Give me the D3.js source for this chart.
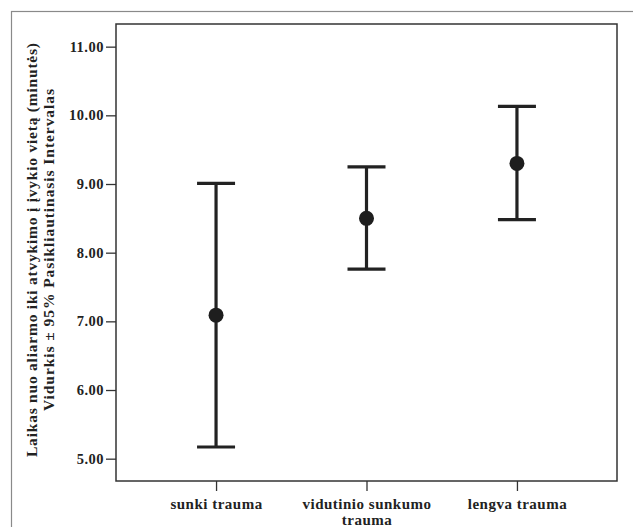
<!DOCTYPE html>
<html lang="lt">
<head>
<meta charset="UTF-8">
<title>Vidurkis ± 95% PI</title>
<script src="https://d3js.org/d3.v7.min.js"></script>
<style>
  body { margin: 0; background: #fff; }
  .axis text { font-family: "Liberation Serif", "Times New Roman", serif; font-weight: bold; fill: #222; }
  .axis line { stroke: #333; stroke-width: 1.3; }
  .axis path { display: none; }
</style>
</head>
<body>
<script>
// groups and their mean with 95% confidence bounds
var groups = ["sunki trauma", "vidutinio sunkumo trauma", "lengva trauma"];
var means  = [7.09, 8.50, 9.30];
var lower  = [5.17, 7.76, 8.48];
var upper  = [9.01, 9.25, 10.13];
var yTicks = [5, 6, 7, 8, 9, 10, 11];

var w = 633, h = 527;
var plotL = 116, plotR = 617, plotT = 24, plotB = 481;

var svg = d3.select("body").append("svg")
  .attr("width", w)
  .attr("height", h);

// outer frame
svg.append("rect")
  .attr("x", 11.5).attr("y", 11.5)
  .attr("width", 640).attr("height", 640)
  .attr("fill", "none")
  .attr("stroke", "#8a8a8a")
  .attr("stroke-width", 1.2);

var xScale = d3.scalePoint()
  .domain(groups)
  .range([plotL, plotR])
  .padding(0.665);

var yScale = d3.scaleLinear()
  .domain([4.675, 11.33])
  .range([plotB, plotT]);

// y axis
var yAxis = d3.axisLeft(yScale)
  .tickValues(yTicks)
  .tickFormat(d3.format(".2f"))
  .tickSize(10)
  .tickSizeOuter(0)
  .tickPadding(2);

svg.append("g")
  .attr("class", "axis")
  .attr("transform", "translate(" + plotL + ",0)")
  .call(yAxis)
  .selectAll("text")
  .attr("font-size", "14.5px")
  .attr("letter-spacing", "0.5px");

// x axis
var xAxis = d3.axisBottom(xScale)
  .tickSize(10)
  .tickSizeOuter(0)
  .tickFormat("");

var gx = svg.append("g")
  .attr("class", "axis")
  .attr("transform", "translate(0," + plotB + ")")
  .call(xAxis);

gx.selectAll(".tick").each(function(d) {
  var t = d3.select(this).append("text")
    .attr("text-anchor", "middle")
    .attr("font-size", "15px")
    .attr("letter-spacing", "0.5px");
  var lines = d === "vidutinio sunkumo trauma" ? ["vidutinio sunkumo", "trauma"] : [d];
  lines.forEach(function(s, i) {
    t.append("tspan").attr("x", 0).attr("y", 28 + i * 15.5).text(s);
  });
});

// plot frame
svg.append("rect")
  .attr("x", plotL).attr("y", plotT)
  .attr("width", plotR - plotL).attr("height", plotB - plotT)
  .attr("fill", "none")
  .attr("stroke", "#333")
  .attr("stroke-width", 1.5);

// error bars
var capHalf = 19;
var bars = svg.append("g")
  .selectAll("g")
  .data(groups)
  .enter()
  .append("g")
  .attr("stroke", "#222")
  .attr("stroke-width", 3.2);

bars.append("line")
  .attr("x1", function(d) { return xScale(d); })
  .attr("x2", function(d) { return xScale(d); })
  .attr("y1", function(d, i) { return yScale(lower[i]); })
  .attr("y2", function(d, i) { return yScale(upper[i]); });

bars.append("line")
  .attr("x1", function(d) { return xScale(d) - capHalf; })
  .attr("x2", function(d) { return xScale(d) + capHalf; })
  .attr("y1", function(d, i) { return yScale(upper[i]); })
  .attr("y2", function(d, i) { return yScale(upper[i]); });

bars.append("line")
  .attr("x1", function(d) { return xScale(d) - capHalf; })
  .attr("x2", function(d) { return xScale(d) + capHalf; })
  .attr("y1", function(d, i) { return yScale(lower[i]); })
  .attr("y2", function(d, i) { return yScale(lower[i]); });

svg.selectAll("circle.mean")
  .data(groups)
  .enter()
  .append("circle")
  .attr("class", "mean")
  .attr("cx", function(d) { return xScale(d); })
  .attr("cy", function(d, i) { return yScale(means[i]); })
  .attr("r", 7.5)
  .attr("fill", "#1e1e1e");

// y title, two rotated lines
var titleLines = [
  { text: "Laikas nuo aliarmo iki atvykimo į įvykio vietą (minutės)", x: 37, len: 414 },
  { text: "Vidurkis ± 95% Pasikliautinasis Intervalas", x: 54, len: 322 }
];
titleLines.forEach(function(l) {
  svg.append("text")
    .attr("transform", "translate(" + l.x + "," + 250 + ") rotate(-90)")
    .attr("text-anchor", "middle")
    .attr("font-family", "Liberation Serif, Times New Roman, serif")
    .attr("font-weight", "bold")
    .attr("font-size", "15.5px")
    .attr("fill", "#222")
    .attr("textLength", l.len)
    .attr("lengthAdjust", "spacing")
    .text(l.text);
});
</script>
</body>
</html>
